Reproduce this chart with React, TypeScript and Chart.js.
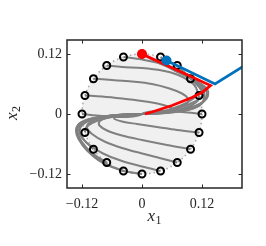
import React, { useEffect, useRef } from "react";
import { Chart, registerables } from "chart.js";

Chart.register(...registerables);

// axis settings
const xTicks = [-0.12, 0, 0.12];
const yTicks = [-0.12, 0, 0.12];
const xMin = -0.15;
const xMax = 0.2;
const yMin = -0.148;
const yMax = 0.148;
const regionRadius = 0.12;

// initial states (open markers) 0°,18°,...,342°
const markerX = [0.12, 0.1141, 0.0971, 0.0705, 0.0371, 0, -0.0371, -0.0705, -0.0971, -0.1141, -0.12, -0.1141, -0.0971, -0.0705, -0.0371, 0, 0.0371, 0.0705, 0.0971, 0.1141];
const markerY = [0, 0.0371, 0.0705, 0.0971, 0.1141, 0.12, 0.1141, 0.0971, 0.0705, 0.0371, 0, -0.0371, -0.0705, -0.0971, -0.1141, -0.12, -0.1141, -0.0971, -0.0705, -0.0371];

// gray closed-loop trajectories (same order as markers)
const trajX: number[][] = [
  [0.12, 0.08, 0.045, 0.018, 0.004, 0],
  [0.1141, 0.112, 0.1, 0.082, 0.06, 0.038, 0.018, 0],
  [0.0971, 0.115, 0.124, 0.122, 0.11, 0.09, 0.064, 0.035, 0],
  [0.0705, 0.095, 0.115, 0.125, 0.124, 0.114, 0.092, 0.064, 0.034, 0],
  [0.0371, 0.06, 0.09, 0.115, 0.128, 0.129, 0.12, 0.1, 0.074, 0.045, 0.02, 0],
  [0, 0.03, 0.06, 0.09, 0.117, 0.131, 0.132, 0.124, 0.105, 0.078, 0.048, 0.022, 0],
  [-0.0371, 0, 0.04, 0.075, 0.105, 0.12, 0.124, 0.117, 0.1, 0.076, 0.048, 0.022, 0],
  [-0.0705, -0.04, 0, 0.04, 0.07, 0.095, 0.108, 0.11, 0.1, 0.08, 0.055, 0.028, 0],
  [-0.0971, -0.06, -0.02, 0.02, 0.055, 0.08, 0.092, 0.09, 0.076, 0.055, 0.03, 0],
  [-0.1141, -0.08, -0.04, 0, 0.035, 0.055, 0.06, 0.05, 0.03, 0],
  [-0.12, -0.08, -0.045, -0.018, -0.004, 0],
  [-0.1141, -0.112, -0.1, -0.082, -0.06, -0.038, -0.018, 0],
  [-0.0971, -0.115, -0.124, -0.122, -0.11, -0.09, -0.064, -0.035, 0],
  [-0.0705, -0.1, -0.12, -0.129, -0.127, -0.114, -0.092, -0.064, -0.034, 0],
  [-0.0371, -0.075, -0.105, -0.124, -0.131, -0.128, -0.114, -0.09, -0.062, -0.032, 0],
  [0, -0.04, -0.08, -0.11, -0.127, -0.132, -0.127, -0.112, -0.088, -0.06, -0.03, 0],
  [0.0371, 0, -0.04, -0.078, -0.105, -0.122, -0.126, -0.12, -0.104, -0.08, -0.052, -0.025, 0],
  [0.0705, 0.035, 0, -0.04, -0.075, -0.1, -0.11, -0.105, -0.09, -0.068, -0.043, -0.02, 0],
  [0.0971, 0.05, 0, -0.04, -0.07, -0.085, -0.085, -0.075, -0.058, -0.038, -0.018, 0],
  [0.1141, 0.07, 0.03, -0.01, -0.04, -0.055, -0.055, -0.045, -0.03, -0.015, 0],
];
const trajY: number[][] = [
  [0, 0.004, 0.006, 0.005, 0.002, 0],
  [0.0371, 0.027, 0.018, 0.011, 0.006, 0.003, 0.001, 0],
  [0.0705, 0.053, 0.037, 0.025, 0.015, 0.008, 0.004, 0.0012, 0],
  [0.0971, 0.073, 0.056, 0.04, 0.027, 0.016, 0.008, 0.0035, 0.001, 0],
  [0.1141, 0.09, 0.075, 0.06, 0.047, 0.034, 0.023, 0.014, 0.007, 0.003, 0.001, 0],
  [0.12, 0.104, 0.09, 0.075, 0.061, 0.049, 0.036, 0.025, 0.015, 0.008, 0.003, 0.001, 0],
  [0.1141, 0.109, 0.1, 0.087, 0.07, 0.055, 0.043, 0.032, 0.022, 0.013, 0.006, 0.002, 0],
  [0.0971, 0.094, 0.092, 0.087, 0.079, 0.066, 0.053, 0.04, 0.029, 0.018, 0.009, 0.003, 0],
  [0.0705, 0.068, 0.065, 0.06, 0.051, 0.041, 0.031, 0.022, 0.014, 0.007, 0.003, 0],
  [0.0371, 0.035, 0.031, 0.026, 0.02, 0.014, 0.009, 0.005, 0.002, 0],
  [0, -0.004, -0.006, -0.005, -0.002, 0],
  [-0.0371, -0.027, -0.018, -0.011, -0.006, -0.003, -0.001, 0],
  [-0.0705, -0.053, -0.037, -0.025, -0.015, -0.008, -0.004, -0.0012, 0],
  [-0.0971, -0.078, -0.056, -0.037, -0.024, -0.014, -0.0075, -0.0035, -0.001, 0],
  [-0.1141, -0.098, -0.076, -0.053, -0.035, -0.022, -0.013, -0.007, -0.003, -0.001, 0],
  [-0.12, -0.113, -0.097, -0.073, -0.05, -0.033, -0.021, -0.013, -0.007, -0.003, -0.001, 0],
  [-0.1141, -0.105, -0.094, -0.079, -0.062, -0.045, -0.031, -0.02, -0.012, -0.006, -0.0025, -0.0008, 0],
  [-0.0971, -0.088, -0.079, -0.068, -0.055, -0.04, -0.027, -0.017, -0.01, -0.005, -0.002, -0.0007, 0],
  [-0.0705, -0.062, -0.052, -0.043, -0.033, -0.023, -0.015, -0.009, -0.005, -0.002, -0.0007, 0],
  [-0.0371, -0.032, -0.026, -0.02, -0.015, -0.01, -0.006, -0.003, -0.0015, -0.0005, 0],
];

// red (stable) trajectory
const redX = [0, 0.137, 0.12, 0.1, 0.08, 0.06, 0.04, 0.02, 0.006];
const redY = [0.12, 0.057, 0.043, 0.033, 0.025, 0.017, 0.0105, 0.004, 0];
// blue (diverging) trajectory
const blueX = [0.049, 0.146, 0.26];
const blueY = [0.107, 0.06, 0.131];

const AXIS_COLOR = "#262626";
const FONT_FAMILY = '"Liberation Serif", "DejaVu Serif", serif';

const fmt = (v: number) => {
  if (Math.abs(v) < 1e-9) return "0";
  return (v < 0 ? "\u2212" : "") + Math.abs(v).toFixed(2);
};

const regionPlugin = {
  id: "region",
  beforeDatasetsDraw(chart: any) {
    const { ctx, chartArea, scales } = chart;
    const cx = scales.x.getPixelForValue(0);
    const cy = scales.y.getPixelForValue(0);
    const r = scales.x.getPixelForValue(regionRadius) - cx;
    ctx.save();
    ctx.beginPath();
    ctx.rect(chartArea.left, chartArea.top, chartArea.right - chartArea.left, chartArea.bottom - chartArea.top);
    ctx.clip();
    ctx.beginPath();
    ctx.arc(cx, cy, r, 0, Math.PI * 2);
    ctx.fillStyle = "#f0f0f0";
    ctx.fill();
    ctx.setLineDash([1.5, 3]);
    ctx.strokeStyle = "#a8a8a8";
    ctx.lineWidth = 1.5;
    ctx.stroke();
    ctx.restore();
  },
};

const boxPlugin = {
  id: "box",
  afterDatasetsDraw(chart: any) {
    const { ctx, chartArea, scales } = chart;
    const { left, right, top, bottom } = chartArea;
    ctx.save();
    ctx.strokeStyle = AXIS_COLOR;
    ctx.lineWidth = 1.5;
    ctx.strokeRect(left, top, right - left, bottom - top);
    ctx.lineWidth = 1;
    const tl = 3.5;
    ctx.beginPath();
    xTicks.forEach((v) => {
      const px = Math.round(scales.x.getPixelForValue(v)) + 0.5;
      ctx.moveTo(px, bottom);
      ctx.lineTo(px, bottom - tl);
      ctx.moveTo(px, top);
      ctx.lineTo(px, top + tl);
    });
    yTicks.forEach((v) => {
      const py = Math.round(scales.y.getPixelForValue(v)) + 0.5;
      ctx.moveTo(left, py);
      ctx.lineTo(left + tl, py);
      ctx.moveTo(right, py);
      ctx.lineTo(right - tl, py);
    });
    ctx.stroke();
    ctx.restore();
  },
};

function drawSubLabel(ctx: CanvasRenderingContext2D, main: string, sub: string, cx: number, baseline: number) {
  const mainFont = `italic 17px ${FONT_FAMILY}`;
  const subFont = `12px ${FONT_FAMILY}`;
  ctx.font = mainFont;
  const w1 = ctx.measureText(main).width;
  ctx.font = subFont;
  const w2 = ctx.measureText(sub).width;
  const start = cx - (w1 + w2 + 0.5) / 2;
  ctx.font = mainFont;
  ctx.fillText(main, start, baseline);
  ctx.font = subFont;
  ctx.fillText(sub, start + w1 + 0.5, baseline + 3);
}

const titlesPlugin = {
  id: "titles",
  afterDraw(chart: any) {
    const { ctx, chartArea } = chart;
    ctx.save();
    ctx.fillStyle = AXIS_COLOR;
    ctx.textBaseline = "alphabetic";
    ctx.textAlign = "left";
    drawSubLabel(ctx, "x", "1", (chartArea.left + chartArea.right) / 2, 221);
    ctx.translate(17, (chartArea.top + chartArea.bottom) / 2 - 1);
    ctx.rotate(-Math.PI / 2);
    drawSubLabel(ctx, "x", "2", 0, 0);
    ctx.restore();
  },
};

const pts = (xs: number[], ys: number[]) => xs.map((x, i) => ({ x, y: ys[i] }));

export default function App() {
  const canvasRef = useRef<HTMLCanvasElement | null>(null);

  useEffect(() => {
    document.body.style.margin = "0";
    const canvas = canvasRef.current;
    if (!canvas) return;

    const grayDatasets = trajX.map((xs, i) => ({
      data: pts(xs, trajY[i]),
      showLine: true,
      borderColor: "#808080",
      borderWidth: 2,
      pointRadius: 0,
      tension: 0.35,
      fill: false,
      order: 6,
    }));

    const chart = new Chart(canvas, {
      type: "scatter",
      data: {
        datasets: [
          ...grayDatasets,
          {
            data: pts(markerX, markerY),
            showLine: false,
            pointRadius: 3.5,
            pointBorderWidth: 2,
            pointBorderColor: "#000000",
            pointBackgroundColor: "rgba(0,0,0,0)",
            order: 5,
          },
          {
            data: pts(redX, redY),
            showLine: true,
            borderColor: "#ff0000",
            borderWidth: 2.8,
            pointRadius: 0,
            tension: 0,
            order: 4,
          },
          {
            data: pts([redX[0]], [redY[0]]),
            showLine: false,
            pointRadius: 5,
            pointBorderWidth: 0,
            pointBackgroundColor: "#ff0000",
            pointBorderColor: "#ff0000",
            order: 3,
          },
          {
            data: pts(blueX, blueY),
            showLine: true,
            borderColor: "#0072bd",
            borderWidth: 2.8,
            pointRadius: 0,
            tension: 0,
            order: 2,
          },
          {
            data: pts([blueX[0]], [blueY[0]]),
            showLine: false,
            pointRadius: 5,
            pointBorderWidth: 0,
            pointBackgroundColor: "#0072bd",
            pointBorderColor: "#0072bd",
            order: 1,
          },
        ] as any,
      },
      options: {
        responsive: false,
        animation: false,
        events: [],
        layout: { padding: { top: 40, right: 24, left: 0, bottom: 0 } },
        plugins: {
          legend: { display: false },
          tooltip: { enabled: false },
          title: { display: false },
        },
        scales: {
          x: {
            type: "linear",
            min: xMin,
            max: xMax,
            grid: { display: false, drawTicks: false },
            border: { display: false },
            ticks: {
              color: AXIS_COLOR,
              font: { family: FONT_FAMILY, size: 14 },
              padding: 8,
              maxRotation: 0,
              autoSkip: false,
              callback: (v: any) => fmt(Number(v)),
            },
            afterBuildTicks: (s: any) => {
              s.ticks = xTicks.map((v) => ({ value: v }));
            },
            afterFit: (s: any) => {
              s.height = 58;
            },
          },
          y: {
            type: "linear",
            min: yMin,
            max: yMax,
            grid: { display: false, drawTicks: false },
            border: { display: false },
            ticks: {
              color: AXIS_COLOR,
              font: { family: FONT_FAMILY, size: 14 },
              padding: 5,
              autoSkip: false,
              callback: (v: any) => fmt(Number(v)),
            },
            afterBuildTicks: (s: any) => {
              s.ticks = yTicks.map((v) => ({ value: v }));
            },
            afterFit: (s: any) => {
              s.width = 67;
            },
          },
        },
      } as any,
      plugins: [regionPlugin, boxPlugin, titlesPlugin],
    });

    return () => chart.destroy();
  }, []);

  return (
    <div style={{ width: 266, height: 246 }}>
      <canvas ref={canvasRef} width={266} height={246} style={{ display: "block" }} />
    </div>
  );
}
